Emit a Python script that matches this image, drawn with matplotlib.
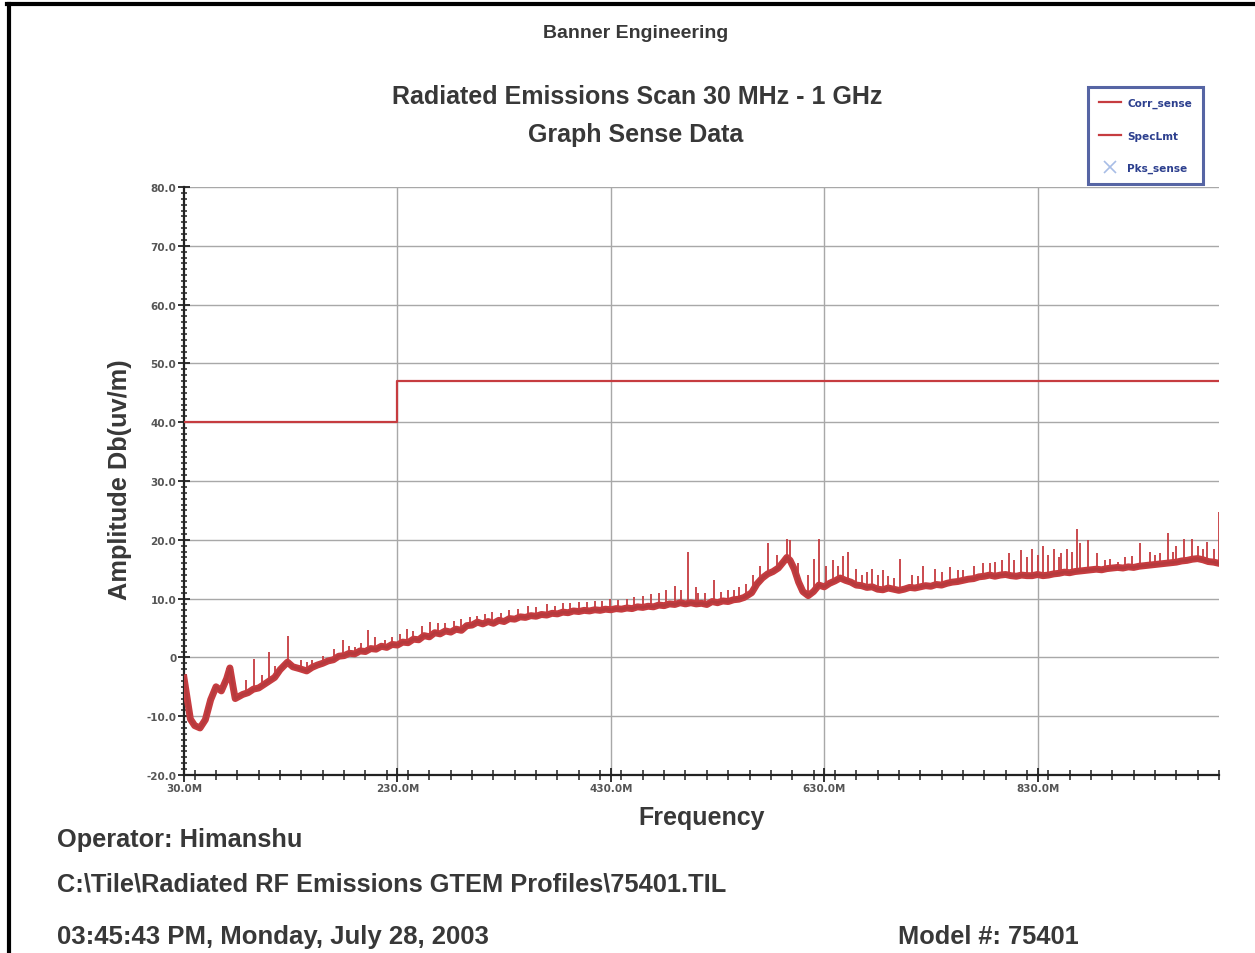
import numpy as np
import matplotlib
matplotlib.use('Agg')
import matplotlib.pyplot as plt
from matplotlib.lines import Line2D
from matplotlib.ticker import MultipleLocator, FixedLocator

# Corr_sense trace: baseline (MHz, dB(uV/m))
freq_mhz = [30, 33, 36, 40, 45, 50, 55, 60, 65, 70, 73, 76, 78, 85, 90, 95, 100, 105,
            110, 115, 120, 127, 132, 138, 145, 150, 155, 160, 165, 170, 175, 180, 185,
            190, 195, 200, 205, 210, 215, 220, 225, 230, 235, 240, 245, 250, 255, 260,
            265, 270, 275, 280, 285, 290, 295, 300, 305, 310, 315, 320, 325, 330, 335,
            340, 345, 350, 355, 360, 365, 370, 375, 380, 385, 390, 395, 400, 405, 410,
            415, 420, 425, 430, 435, 440, 445, 450, 455, 460, 465, 470, 475, 480, 485,
            490, 495, 500, 505, 510, 515, 520, 525, 530, 535, 540, 545, 550, 555, 562,
            567, 572, 577, 582, 587, 592, 595, 598, 602, 606, 610, 615, 620, 625, 630,
            635, 640, 645, 650, 655, 660, 665, 670, 675, 680, 685, 690, 695, 700, 705,
            710, 715, 720, 725, 730, 735, 740, 745, 750, 755, 760, 765, 770, 775, 780,
            785, 790, 795, 800, 805, 810, 815, 820, 825, 830, 835, 840, 845, 850, 855,
            860, 865, 870, 875, 880, 885, 890, 895, 900, 905, 910, 915, 920, 925, 930,
            935, 940, 945, 950, 955, 960, 965, 970, 975, 980, 985, 990, 995, 1000]
corr_db = [-3.5, -7.0, -10.5, -11.6, -12.0, -10.6, -7.2, -5.0, -5.7, -3.6, -1.8, -5.0,
           -7.0, -6.3, -6.0, -5.4, -5.2, -4.6, -4.0, -3.4, -2.1, -0.8, -1.6, -1.9, -2.3,
           -1.7, -1.3, -1.0, -0.6, -0.4, 0.2, 0.3, 0.7, 0.6, 1.1, 1.0, 1.5, 1.4, 1.9, 1.7,
           2.2, 2.1, 2.6, 2.5, 3.1, 3.0, 3.7, 3.5, 4.2, 4.0, 4.5, 4.3, 4.8, 4.6, 5.4, 5.5,
           6.0, 5.7, 6.1, 5.8, 6.3, 6.1, 6.6, 6.5, 6.9, 6.8, 7.1, 7.0, 7.3, 7.2, 7.5, 7.4,
           7.7, 7.6, 7.9, 7.8, 8.0, 7.9, 8.1, 8.0, 8.2, 8.1, 8.3, 8.2, 8.4, 8.3, 8.6, 8.5,
           8.7, 8.6, 8.9, 8.8, 9.1, 9.0, 9.3, 9.1, 9.3, 9.1, 9.2, 9.0, 9.5, 9.3, 9.6, 9.5,
           9.8, 9.9, 10.2, 11.0, 12.5, 13.5, 14.2, 14.6, 15.2, 16.3, 17.0, 16.5, 15.0,
           12.8, 11.2, 10.5, 11.2, 12.3, 12.0, 12.6, 13.0, 13.5, 13.1, 12.8, 12.3, 12.2,
           11.9, 12.0, 11.6, 11.5, 11.8, 11.6, 11.4, 11.6, 11.9, 11.8, 12.0, 12.2, 12.1,
           12.4, 12.3, 12.6, 12.8, 12.9, 13.1, 13.3, 13.4, 13.7, 13.8, 14.0, 13.8, 14.0,
           14.1, 13.9, 13.8, 14.0, 13.9, 13.9, 14.1, 13.9, 14.0, 14.2, 14.3, 14.5, 14.4,
           14.6, 14.7, 14.8, 14.9, 15.0, 14.9, 15.1, 15.2, 15.3, 15.2, 15.4, 15.3, 15.5,
           15.6, 15.7, 15.8, 15.9, 16.0, 16.1, 16.2, 16.4, 16.5, 16.7, 16.8, 16.6, 16.3,
           16.2, 16.0]

# narrow peaks sticking out of the noise floor
spike_mhz = [88, 96, 103, 110, 115, 127, 140, 145, 150, 160, 171, 179, 185, 190, 196,
             202, 209, 218, 225, 232, 239, 245, 253, 261, 268, 275, 283, 290, 298, 305,
             312, 319, 327, 335, 343, 352, 360, 370, 378, 385, 392, 400, 408, 415, 422,
             429, 437, 445, 452, 460, 468, 475, 482, 490, 496, 502, 510, 512, 518, 527,
             533, 540, 545, 550, 557, 563, 570, 577, 586, 595, 598, 605, 615, 620, 625,
             632, 638, 643, 648, 652, 660, 665, 670, 675, 680, 685, 690, 695, 701, 712,
             718, 723, 734, 740, 748, 755, 760, 770, 779, 785, 790, 797, 803, 808, 814,
             820, 825, 830, 835, 840, 845, 850, 852, 858, 862, 867, 870, 877, 886, 893,
             898, 905, 912, 918, 926, 935, 940, 945, 952, 957, 960, 967, 975, 980, 985,
             989, 995, 1000]
spike_db = [-3.8, -0.2, -3.0, 1.0, -1.5, 3.7, -0.5, -0.8, -0.5, 0.2, 1.5, 2.9, 2.0, 1.8,
            2.5, 4.6, 3.5, 3.0, 3.5, 4.0, 4.9, 4.5, 5.3, 6.1, 5.8, 5.8, 6.2, 6.5, 6.8,
            7.0, 7.3, 7.8, 7.5, 8.0, 8.2, 8.7, 8.5, 9.0, 8.8, 9.2, 9.2, 9.5, 9.4, 9.6,
            9.6, 10.0, 9.7, 10.0, 10.2, 10.5, 10.8, 11.0, 11.5, 12.2, 11.5, 18.0, 12.0,
            11.0, 11.0, 13.1, 11.2, 11.5, 11.5, 12.0, 12.5, 14.0, 15.5, 19.4, 17.5, 20.2,
            19.9, 16.0, 14.0, 16.8, 20.1, 15.5, 16.5, 15.5, 17.3, 18.0, 15.0, 14.0, 14.5,
            15.0, 14.0, 14.8, 13.8, 13.5, 16.8, 14.0, 13.8, 15.5, 15.1, 14.5, 15.3, 14.8,
            14.8, 15.5, 16.0, 16.0, 16.2, 16.5, 17.7, 16.5, 18.2, 17.0, 18.5, 17.5, 18.9,
            17.5, 18.5, 17.0, 17.8, 18.5, 18.0, 21.9, 19.5, 19.9, 17.7, 16.5, 16.8, 16.3,
            17.0, 17.2, 19.4, 18.0, 17.5, 17.8, 21.1, 18.0, 19.0, 20.2, 20.2, 19.0, 18.5,
            19.7, 18.5, 24.8]

# SpecLmt step
spec_edges = [30, 230, 1000]
spec_db = [40, 47, 47]

y_major = list(range(-20, 81, 10))
y_labels = ['-20.0', '-10.0', '0', '10.0', '20.0', '30.0', '40.0', '50.0', '60.0', '70.0', '80.0']
x_major = [30, 230, 430, 630, 830]
x_labels = ['30.0M', '230.0M', '430.0M', '630.0M', '830.0M']

red = '#c63c40'
txt = '#383838'
navy = '#2c3f8e'

fig = plt.figure(figsize=(12.55, 9.54), dpi=100)
W, H = 1255, 954
ax = fig.add_axes([184 / W, 1 - 776 / H, (1219 - 184) / W, (776 - 188) / H])

ax.set_xlim(30, 1000)
ax.set_ylim(-20, 80)

# grid
for y in y_major[1:]:
    ax.axhline(y, color='#a8a8a8', lw=1.0, zorder=0)
for x in x_major[1:]:
    ax.axvline(x, color='#a8a8a8', lw=1.0, zorder=0)

ax.step(spec_edges, spec_db, where='post', color=red, lw=1.6, zorder=3)

base_at_spike = np.interp(spike_mhz, freq_mhz, corr_db)
ax.vlines(spike_mhz, base_at_spike, spike_db, color=red, lw=1.3, zorder=4)
ax.plot(freq_mhz, corr_db, color=red, lw=5.0, zorder=4)
ax.plot(freq_mhz, corr_db, color='#b53a3d', lw=2.0, zorder=5)

for s in ['top', 'right']:
    ax.spines[s].set_visible(False)
for s in ['left', 'bottom']:
    ax.spines[s].set_linewidth(1.6)
    ax.spines[s].set_color('#222222')

ax.yaxis.set_major_locator(FixedLocator(y_major))
ax.set_yticklabels(y_labels)
ax.yaxis.set_minor_locator(MultipleLocator(1))
ax.xaxis.set_major_locator(FixedLocator(x_major))
ax.set_xticklabels(x_labels)
ax.xaxis.set_minor_locator(MultipleLocator(20))

ax.tick_params(axis='y', which='major', direction='inout', length=9, width=1.3, color='#222222', pad=1)
ax.tick_params(axis='y', which='minor', direction='inout', length=5, width=1.1, color='#222222')
ax.tick_params(axis='x', which='major', direction='inout', length=10, width=1.3, color='#222222', pad=1)
ax.tick_params(axis='x', which='minor', direction='inout', length=7, width=1.1, color='#222222')
for lab in ax.get_xticklabels() + ax.get_yticklabels():
    lab.set_fontfamily('DejaVu Sans')
    lab.set_fontweight('bold')
    lab.set_fontsize(7.5)
    lab.set_color('#555555')

# legend
handles = [Line2D([], [], color=red, lw=1.6),
           Line2D([], [], color=red, lw=1.6),
           Line2D([], [], color='#a8bde6', marker='x', ls='none', markersize=9, markeredgewidth=1.2)]
leg = fig.legend(handles, ['Corr_sense', 'SpecLmt', 'Pks_sense'], loc='upper left',
                 bbox_to_anchor=(1088 / W, 1 - 88 / H), borderaxespad=0, fancybox=False,
                 frameon=True, labelcolor=navy, handlelength=2.1, handletextpad=0.55,
                 labelspacing=2.1, borderpad=1.05, prop={'family': 'DejaVu Sans', 'weight': 'bold', 'size': 7.6})
leg.get_frame().set_edgecolor(navy)
leg.get_frame().set_linewidth(2.2)

font = 'Liberation Sans'
fig.text(636 / W, 1 - 34 / H, 'Banner Engineering', ha='center', va='center',
         fontsize=14, fontweight='bold', color=txt, family=font)
fig.text(637 / W, 1 - 97 / H, 'Radiated Emissions Scan 30 MHz - 1 GHz', ha='center', va='center',
         fontsize=18, fontweight='bold', color=txt, family=font)
fig.text(636 / W, 1 - 135 / H, 'Graph Sense Data', ha='center', va='center',
         fontsize=18, fontweight='bold', color=txt, family=font)
fig.text(120 / W, 1 - 480 / H, 'Amplitude Db(uv/m)', ha='center', va='center', rotation=90,
         fontsize=18.3, fontweight='bold', color=txt, family=font)
fig.text(702 / W, 1 - 818 / H, 'Frequency', ha='center', va='center',
         fontsize=18, fontweight='bold', color=txt, family=font)
fig.text(57 / W, 1 - 840 / H, 'Operator: Himanshu', ha='left', va='center',
         fontsize=18.3, fontweight='bold', color=txt, family=font)
fig.text(57 / W, 1 - 885 / H, 'C:\\Tile\\Radiated RF Emissions GTEM Profiles\\75401.TIL', ha='left', va='center',
         fontsize=18.3, fontweight='bold', color=txt, family=font)
fig.text(57 / W, 1 - 937 / H, '03:45:43 PM, Monday, July 28, 2003', ha='left', va='center',
         fontsize=18.5, fontweight='bold', color=txt, family=font)
fig.text(898 / W, 1 - 937 / H, 'Model #: 75401', ha='left', va='center',
         fontsize=18.3, fontweight='bold', color=txt, family=font)

# scan border (top and left)
fig.add_artist(Line2D([7 / W, 1], [1 - 4.5 / H, 1 - 4.5 / H], color='black', lw=3))
fig.add_artist(Line2D([8.5 / W, 8.5 / W], [0, 1 - 4.5 / H], color='black', lw=3))

fig.savefig('out.png', dpi=100, facecolor='white')
